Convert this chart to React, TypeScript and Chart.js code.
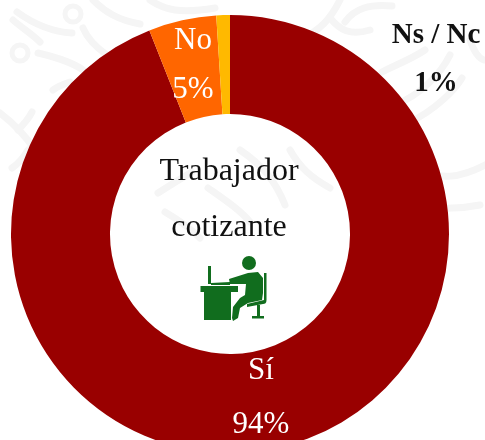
import React, { useEffect, useRef } from "react";
import { Chart, registerables } from "chart.js";

Chart.register(...registerables);

const categories = ["Sí", "No", "Ns / Nc"];
const shares = [94, 5, 1];
const sliceColors = ["#990000", "#FF6600", "#FFB900"];
const centerLines = ["Trabajador", "cotizante"];

const FONT = '"Liberation Serif", serif';

const labelPlacement = [
  { x: 261, nameY: 379, valueY: 433, color: "#ffffff", weight: "normal", size: 31 },
  { x: 193, nameY: 49, valueY: 98, color: "#ffffff", weight: "normal", size: 31 },
  { x: 436, nameY: 43, valueY: 91, color: "#111111", weight: "bold", size: 29 },
];
const centerPlacement = [
  { x: 229, y: 180 },
  { x: 229, y: 236 },
];

// Faint background ornament, decoration only
const ornamentStrokes = [
  "M17 12 C35 25 55 32 72 33",
  "M13 20 C22 28 32 34 40 42",
  "M83 28 C88 40 97 48 107 55",
  "M38 53 C55 57 72 62 83 70",
  "M53 90 C58 86 64 84 70 82",
  "M93 0 C105 12 118 20 140 24",
  "M150 0 C165 10 180 14 215 8",
  "M0 113 C12 122 25 135 35 150",
  "M18 130 C24 124 28 120 32 112",
  "M12 168 C18 164 22 160 28 150",
  "M345 22 C355 8 370 4 392 6",
  "M470 40 C474 52 478 58 484 60",
  "M330 18 C340 30 350 36 370 30",
  "M382 72 C395 65 410 60 425 50",
  "M395 105 C420 95 440 75 450 55",
  "M410 122 C435 110 455 90 462 78",
  "M300 40 C320 30 330 20 340 0",
  "M158 193 C172 184 182 178 192 172",
  "M165 212 C182 222 192 230 200 238",
  "M208 188 C225 200 240 210 250 222",
  "M240 150 C262 165 275 180 285 205",
  "M290 150 C300 168 312 178 330 188",
  "M420 170 C440 180 460 178 485 165",
  "M370 195 C395 200 430 215 480 205",
];
const ornamentDots = [
  { x: 73, y: 14, r: 8 },
  { x: 20, y: 53, r: 8 },
];

const deskIcon = [
  "M200.5 286 H238 V292 H231 V320 H204 V292 H200.5 Z",
  "M208 266 H211 V284 H208 Z",
  "M211 283 L230 282 L230 285 L211 285 Z",
  "M229 279 L248 273 L258 272 L263 278 L263 293 L262 300 L248 303 L240 308 L238 318 L233 321 L232 318 L233 307 L240 298 L245 295 L246 284 L230 284 Z",
  "M264 273 H266.5 V300 C266.5 303 265 304 263 304 L247 307 L247 304 L264 300 Z",
  "M257 305 H260 V316 H264 V318.5 H252 V316 H257 Z",
];

const backdrop = {
  id: "backdrop",
  beforeDraw(chart: Chart) {
    const { ctx } = chart;
    ctx.save();
    ctx.strokeStyle = "#f5f5f5";
    ctx.lineCap = "round";
    ctx.lineWidth = 7;
    ornamentStrokes.forEach((d) => ctx.stroke(new Path2D(d)));
    ctx.lineWidth = 5;
    ornamentDots.forEach((o) => {
      ctx.beginPath();
      ctx.arc(o.x, o.y, o.r, 0, Math.PI * 2);
      ctx.stroke();
    });
    ctx.restore();
  },
};

const annotations = {
  id: "annotations",
  afterDraw(chart: Chart) {
    const { ctx } = chart;
    ctx.save();
    ctx.textAlign = "center";
    ctx.textBaseline = "alphabetic";
    categories.forEach((name, i) => {
      const p = labelPlacement[i];
      ctx.fillStyle = p.color;
      ctx.font = `${p.weight} ${p.size}px ${FONT}`;
      ctx.fillText(name, p.x, p.nameY);
      ctx.fillText(`${shares[i]}%`, p.x, p.valueY);
    });
    ctx.fillStyle = "#111111";
    ctx.font = `normal 32px ${FONT}`;
    centerLines.forEach((line, i) => {
      ctx.fillText(line, centerPlacement[i].x, centerPlacement[i].y);
    });
    ctx.fillStyle = "#116D1E";
    deskIcon.forEach((d) => ctx.fill(new Path2D(d)));
    ctx.beginPath();
    ctx.arc(249, 263, 7, 0, Math.PI * 2);
    ctx.fill();
    ctx.restore();
  },
};

export default function App() {
  const ref = useRef<HTMLCanvasElement>(null);
  useEffect(() => {
    if (!ref.current) return;
    const chart = new Chart(ref.current, {
      type: "doughnut",
      data: {
        labels: categories,
        datasets: [
          {
            data: shares,
            backgroundColor: sliceColors,
            borderWidth: 0,
          },
        ],
      },
      options: {
        responsive: false,
        animation: false,
        cutout: "54.8%",
        layout: { padding: { left: 11, right: 36, top: 15, bottom: 7 } },
        plugins: { legend: { display: false }, tooltip: { enabled: false } },
      },
      plugins: [backdrop, annotations],
    });
    return () => chart.destroy();
  }, []);
  return (
    <div style={{ position: "fixed", left: 0, top: 0, width: 485, height: 440, overflow: "hidden", background: "#ffffff" }}>
      <canvas ref={ref} width={485} height={460} style={{ display: "block" }} />
    </div>
  );
}
